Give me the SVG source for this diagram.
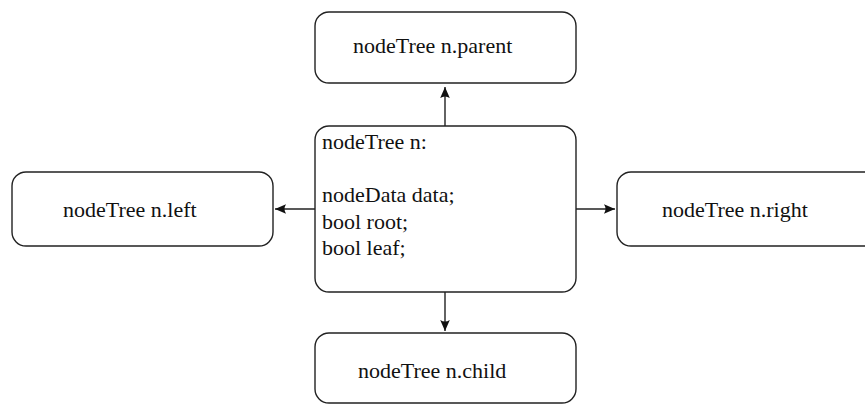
<svg xmlns="http://www.w3.org/2000/svg" width="865" height="405" viewBox="0 0 865 405">
  <style>
    .box { fill: #ffffff; stroke: #222222; stroke-width: 1.4; }
    .lbl { font-family: "Liberation Serif", "Times New Roman", serif; font-size: 22px; fill: #111111; }
    .edge { stroke: #222222; stroke-width: 1.4; fill: none; marker-end: url(#tip); }
  </style>
  <defs>
    <marker id="tip" markerUnits="userSpaceOnUse" markerWidth="14" markerHeight="12" viewBox="-12 -6 14 12" refX="0" refY="0" orient="auto">
      <path d="M0,0 L-11,-4.8 Q-8,0 -11,4.8 Z" fill="#111111"/>
    </marker>
  </defs>

  <rect width="865" height="405" fill="#ffffff"/>

  <!-- connectors -->
  <g id="edges">
    <line class="edge" x1="445" y1="126" x2="445" y2="87"/>
    <line class="edge" x1="315" y1="209" x2="275" y2="209"/>
    <line class="edge" x1="576" y1="209" x2="615" y2="209"/>
    <line class="edge" x1="445" y1="292" x2="445" y2="331"/>
  </g>

  <g id="node-parent">
    <rect class="box" x="315" y="12" width="261" height="71" rx="14"/>
    <text class="lbl" x="353" y="53">nodeTree n.parent</text>
  </g>

  <g id="node-n">
    <rect class="box" x="315" y="126" width="261" height="166" rx="14"/>
    <text class="lbl" x="322" y="149">nodeTree n:</text>
    <text class="lbl" x="322" y="202">nodeData data;</text>
    <text class="lbl" x="322" y="228.5">bool root;</text>
    <text class="lbl" x="322" y="255">bool leaf;</text>
  </g>

  <g id="node-left">
    <rect class="box" x="12" y="172" width="261" height="74" rx="14"/>
    <text class="lbl" x="63" y="217">nodeTree n.left</text>
  </g>

  <g id="node-right">
    <rect class="box" x="617" y="172" width="261" height="74" rx="14"/>
    <text class="lbl" x="662" y="217">nodeTree n.right</text>
  </g>

  <g id="node-child">
    <rect class="box" x="315" y="333" width="261" height="70" rx="14"/>
    <text class="lbl" x="358" y="378">nodeTree n.child</text>
  </g>
</svg>
